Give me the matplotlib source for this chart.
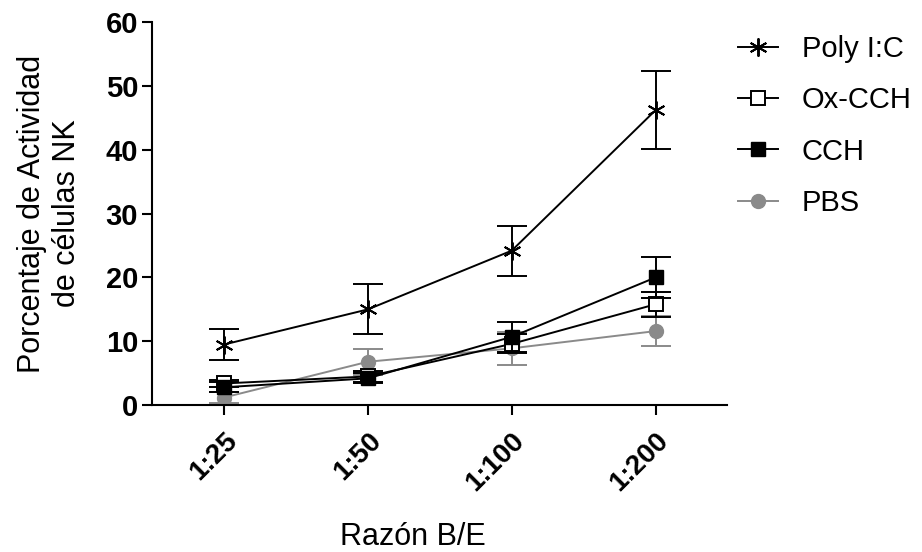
import matplotlib.pyplot as plt
import numpy as np

plt.rcParams['font.family'] = ['Liberation Sans', 'DejaVu Sans']

ratios = ["1:25", "1:50", "1:100", "1:200"]

poly_mean = [9.5, 15.0, 24.2, 46.2]
poly_err = [2.5, 3.9, 3.9, 6.1]

oxcch_mean = [3.4, 4.5, 9.6, 15.8]
oxcch_err = [0.6, 0.8, 1.5, 2.0]

cch_mean = [2.8, 4.2, 10.7, 20.0]
cch_err = [0.8, 0.8, 2.3, 3.2]

pbs_mean = [1.2, 6.8, 8.9, 11.6]
pbs_err = [0.8, 2.0, 2.6, 2.4]

x = np.arange(len(ratios))

fig = plt.figure(figsize=(9.22, 5.52), dpi=100)
ax = fig.add_axes([0.165, 0.266, 0.624, 0.694])

common = dict(capsize=11, elinewidth=1.4, capthick=1.4, linewidth=1.4)

h_pbs = ax.errorbar(x, pbs_mean, yerr=pbs_err, color="#8a8a8a", marker="o",
                    markersize=10, mfc="#8a8a8a", mec="#8a8a8a", zorder=2, **common)
h_ox = ax.errorbar(x, oxcch_mean, yerr=oxcch_err, color="black", marker="s",
                   markersize=10, mfc="white", mec="black", mew=1.4, zorder=3, **common)
h_cch = ax.errorbar(x, cch_mean, yerr=cch_err, color="black", marker="s",
                    markersize=10, mfc="black", mec="black", zorder=4, **common)
h_poly = ax.errorbar(x, poly_mean, yerr=poly_err, color="black", marker=(6, 2, 0),
                     markersize=13, mew=1.4, zorder=5, **common)

ax.set_xlim(-0.5, 3.5)
ax.set_ylim(0, 60)
ax.set_yticks([0, 10, 20, 30, 40, 50, 60])
ax.set_xticks(x)
ax.set_xticklabels(ratios, rotation=45, ha="right", rotation_mode="anchor",
                   fontsize=20, fontweight="bold")
for lab in ax.get_yticklabels():
    lab.set_fontsize(21)
    lab.set_fontweight("bold")

for s in ["top", "right"]:
    ax.spines[s].set_visible(False)
for s in ["left", "bottom"]:
    ax.spines[s].set_linewidth(1.5)
ax.tick_params(axis="both", direction="out", length=7, width=1.5, pad=3)
ax.tick_params(axis="x", pad=9)

ax.set_ylabel("Porcentaje de Actividad\nde células NK", fontsize=22)
ax.yaxis.set_label_coords(-0.122, 0.5)
ax.set_xlabel("Razón B/E", fontsize=22)
ax.xaxis.set_label_coords(0.454, -0.305)

leg = ax.legend(handles=[h_poly[0], h_ox[0], h_cch[0], h_pbs[0]],
                labels=["Poly I:C", "Ox-CCH", "CCH", "PBS"],
                loc="upper left", bbox_to_anchor=(0.972, 1.035), frameon=False,
                fontsize=21, labelspacing=0.8, handlelength=1.4, handletextpad=0.8)

fig.savefig("out.png", dpi=100)
